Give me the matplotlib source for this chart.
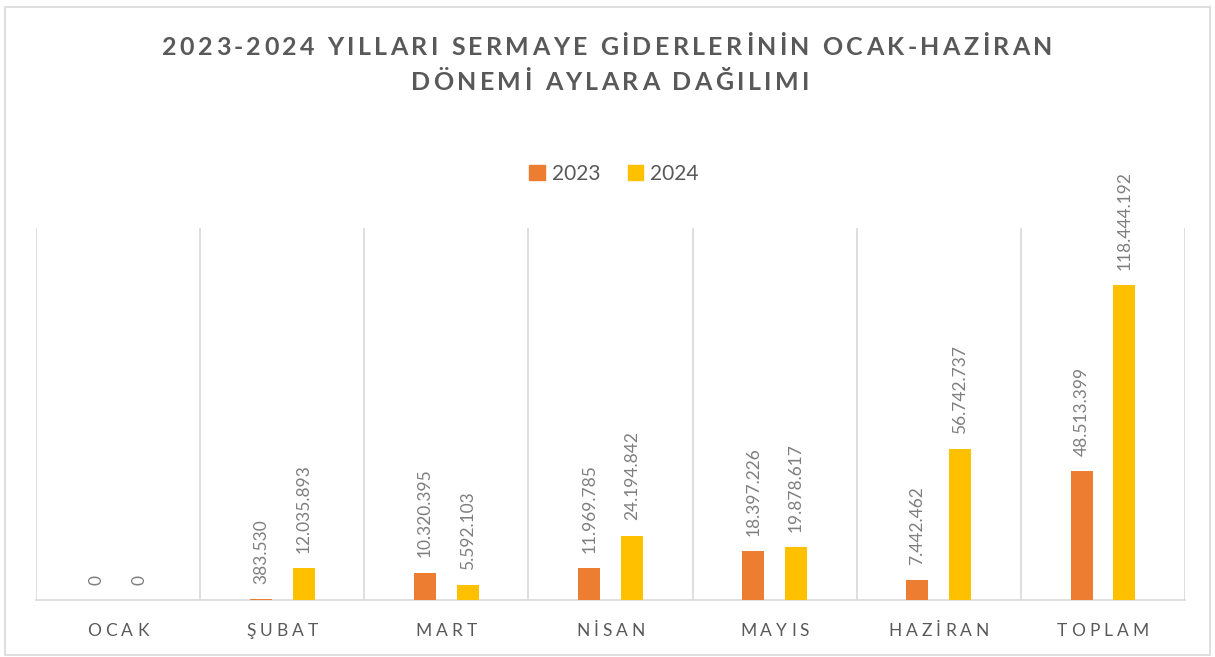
import matplotlib
matplotlib.use("Agg")
import matplotlib.pyplot as plt
from matplotlib.font_manager import FontProperties
from matplotlib.patches import Patch, Rectangle
import numpy as np

categories = ["OCAK", "ŞUBAT", "MART", "NİSAN", "MAYIS", "HAZİRAN", "TOPLAM"]
values_2023 = [0, 383530, 10320395, 11969785, 18397226, 7442462, 48513399]
values_2024 = [0, 12035893, 5592103, 24194842, 19878617, 56742737, 118444192]
series_names = ["2023", "2024"]
title_lines = ["2023-2024 YILLARI SERMAYE GİDERLERİNİN OCAK-HAZİRAN", "DÖNEMİ AYLARA DAĞILIMI"]

C23 = "#ED7D31"
C24 = "#FFC000"
GRID = "#D9D9D9"
TXT = "#595959"
LBL = "#7F7F7F"
FONT = "Lato"

W, H = 1215, 657
fig = plt.figure(figsize=(W / 100, H / 100), dpi=100)
fig.patch.set_facecolor("white")

ax = fig.add_axes([36 / W, 1 - 600 / H, (1185 - 36) / W, (600 - 228) / H])
x = np.arange(len(categories))
off, bw = 0.13, 0.134
b1 = ax.bar(x - off, values_2023, bw, color=C23, zorder=3)
b2 = ax.bar(x + off, values_2024, bw, color=C24, zorder=3)
ax.set_xlim(-0.5, len(categories) - 0.5)
ax.set_ylim(0, 140e6)
ax.set_yticks([])
ax.set_xticks([])
for s in ["top", "left", "right"]:
    ax.spines[s].set_visible(False)
ax.spines["bottom"].set_color(GRID)
ax.spines["bottom"].set_linewidth(1.2)
for b in np.arange(-0.5, len(categories), 1.0):
    ax.axvline(b, color=GRID, lw=1.2, zorder=1)

lblprop = FontProperties(family=FONT, size=12.5)
def fmt(v):
    return f"{v:,}".replace(",", ".")
for bars, vals in ((b1, values_2023), (b2, values_2024)):
    for rect, v in zip(bars, vals):
        ax.annotate(fmt(v), (rect.get_x() + rect.get_width() / 2, v),
                    xytext=(0, 11), textcoords="offset points",
                    rotation=90, ha="center", va="bottom",
                    fontproperties=lblprop, color=LBL, zorder=4)

renderer = fig.canvas.get_renderer()

def char_w(ch, prop):
    w1 = renderer.get_text_width_height_descent("|" + ch + "|", prop, ismath=False)[0]
    w0 = renderer.get_text_width_height_descent("||", prop, ismath=False)[0]
    return w1 - w0

def spaced(cx, base_y, s, prop, spacing, color):
    ws = [char_w(c, prop) for c in s]
    total = sum(ws) + spacing * (len(s) - 1)
    xx = cx - total / 2
    for c, w in zip(s, ws):
        if c != " ":
            fig.text(xx / W, 1 - base_y / H, c, fontproperties=prop, color=color,
                     ha="left", va="baseline")
        xx += w + spacing

titleprop = FontProperties(family=FONT, size=18, weight="bold")
spaced(607, 55, title_lines[0], titleprop, 3.4, TXT)
spaced(610, 90, title_lines[1], titleprop, 3.4, TXT)

tickprop = FontProperties(family=FONT, size=12.5)
for i, c in enumerate(categories):
    px = ax.transData.transform((i, 0))[0]
    spaced(px, 636, c, tickprop, 4, TXT)

handles = [Patch(color=C23), Patch(color=C24)]
fig.legend(handles, series_names, loc="center", bbox_to_anchor=(614 / W, 1 - 174 / H),
           ncol=2, frameon=False, handlelength=0.75, handleheight=0.75,
           handletextpad=0.35, columnspacing=1.3,
           prop=FontProperties(family=FONT, size=15), labelcolor=TXT)

fig.patches.append(Rectangle((5 / W, 1 - 655 / H), (1210 - 5) / W, (655 - 7) / H,
                             transform=fig.transFigure, fill=False, edgecolor=GRID, lw=1.2))

fig.savefig("out.png", dpi=100)
